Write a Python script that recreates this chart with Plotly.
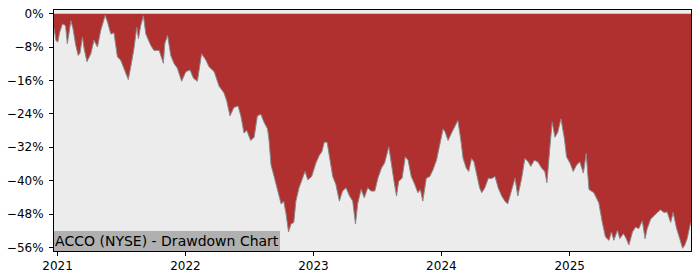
import plotly.graph_objects as go

# ---- data ----
dates = [
    "2020-12-22", "2020-12-28", "2021-01-02", "2021-01-07", "2021-01-15", "2021-01-20", "2021-01-24",
    "2021-01-29", "2021-02-04", "2021-02-08", "2021-02-14", "2021-02-22", "2021-03-01", "2021-03-06",
    "2021-03-13", "2021-03-18", "2021-03-26", "2021-04-06", "2021-04-15", "2021-04-25", "2021-05-04",
    "2021-05-12", "2021-05-17", "2021-05-24", "2021-06-02", "2021-06-11", "2021-06-21", "2021-06-30",
    "2021-07-10", "2021-07-22", "2021-07-29", "2021-08-07", "2021-08-15", "2021-08-20", "2021-08-26",
    "2021-09-03", "2021-09-10", "2021-09-24", "2021-10-03", "2021-10-18", "2021-10-30", "2021-11-03",
    "2021-11-11", "2021-11-20", "2021-11-29", "2021-12-09", "2021-12-21", "2022-01-02", "2022-01-14",
    "2022-01-24", "2022-02-04", "2022-02-16", "2022-02-28", "2022-03-09", "2022-03-24", "2022-04-07",
    "2022-04-21", "2022-04-29", "2022-05-08", "2022-05-19", "2022-05-31", "2022-06-08", "2022-06-17",
    "2022-06-25", "2022-07-06", "2022-07-16", "2022-07-25", "2022-08-04", "2022-08-13", "2022-08-23",
    "2022-08-27", "2022-09-02", "2022-09-12", "2022-09-21", "2022-10-01", "2022-10-08", "2022-10-15",
    "2022-10-22", "2022-10-29", "2022-11-06", "2022-11-12", "2022-11-21", "2022-12-01", "2022-12-08",
    "2022-12-16", "2022-12-27", "2023-01-08", "2023-01-18", "2023-01-25", "2023-02-01", "2023-02-09",
    "2023-02-16", "2023-02-25", "2023-03-06", "2023-03-16", "2023-03-25", "2023-04-04", "2023-04-14",
    "2023-04-23", "2023-05-01", "2023-05-07", "2023-05-17", "2023-05-26", "2023-06-05", "2023-06-14",
    "2023-06-25", "2023-07-04", "2023-07-14", "2023-07-23", "2023-08-04", "2023-08-11", "2023-08-19",
    "2023-08-26", "2023-09-01", "2023-09-11", "2023-09-20", "2023-09-28", "2023-10-07", "2023-10-17",
    "2023-10-26", "2023-11-02", "2023-11-09", "2023-11-19", "2023-11-29", "2023-12-08", "2023-12-18",
    "2023-12-27", "2024-01-06", "2024-01-12", "2024-01-20", "2024-01-31", "2024-02-10", "2024-02-17",
    "2024-02-25", "2024-03-03", "2024-03-12", "2024-03-19", "2024-03-27", "2024-04-03", "2024-04-10",
    "2024-04-19", "2024-04-25", "2024-05-04", "2024-05-14", "2024-05-23", "2024-06-02", "2024-06-11",
    "2024-06-21", "2024-06-30", "2024-07-08", "2024-07-17", "2024-07-29", "2024-08-06", "2024-08-17",
    "2024-08-26", "2024-09-05", "2024-09-12", "2024-09-22", "2024-10-02", "2024-10-13", "2024-10-22",
    "2024-10-28", "2024-11-06", "2024-11-12", "2024-11-20", "2024-11-28", "2024-12-07", "2024-12-17",
    "2024-12-23", "2025-01-02", "2025-01-11", "2025-01-21", "2025-01-30", "2025-02-09", "2025-02-17",
    "2025-02-25", "2025-03-11", "2025-03-25", "2025-04-04", "2025-04-13", "2025-04-23", "2025-04-30",
    "2025-05-07", "2025-05-17", "2025-05-24", "2025-06-03", "2025-06-09", "2025-06-19", "2025-06-29",
    "2025-07-08", "2025-07-17", "2025-07-27", "2025-08-04", "2025-08-10", "2025-08-20", "2025-08-29",
    "2025-09-08", "2025-09-17", "2025-09-27", "2025-10-06", "2025-10-16", "2025-10-23", "2025-11-02",
    "2025-11-11", "2025-11-19", "2025-11-25", "2025-12-02", "2025-12-10", "2025-12-13",
]

drawdown_pct = [
    -3.5, -6.5, -6.8, -4.5, -2.5, -2.6, -3.0,
    -7.2, -4.0, -1.7, -3.5, -7.6, -10.0, -9.5,
    -5.6, -8.4, -11.5, -9.6, -6.4, -8.0, -4.1,
    -2.0, -0.4, -2.1, -4.9, -4.6, -10.4, -11.1,
    -13.1, -15.8, -12.7, -8.4, -3.3, -6.0, -3.0,
    -0.5, -4.9, -7.6, -8.8, -8.8, -11.9, -7.2,
    -5.2, -10.0, -11.9, -13.1, -16.2, -13.9, -13.5,
    -15.5, -16.2, -9.6, -11.1, -12.7, -13.9, -17.4,
    -19.0, -21.0, -24.5, -22.5, -22.1, -24.5, -28.6,
    -28.0, -30.4, -29.6, -24.5, -24.1, -26.0, -27.6,
    -30.0, -36.2, -39.4, -42.5, -45.6, -44.9, -48.0,
    -52.3, -50.4, -50.0, -44.9, -41.7, -39.4, -37.8,
    -39.8, -39.0, -35.8, -33.9, -33.1, -30.8, -30.8,
    -34.7, -39.0, -40.9, -44.9, -42.5, -41.7, -43.7,
    -44.9, -50.4, -45.6, -42.1, -44.1, -41.7, -42.5,
    -42.5, -39.4, -37.0, -35.8, -31.9, -36.2, -40.2,
    -43.7, -40.2, -39.4, -34.3, -35.1, -39.0, -40.9,
    -42.9, -42.1, -44.9, -39.4, -39.0, -37.4, -35.1,
    -31.5, -27.6, -28.4, -30.4, -28.4, -26.8, -25.6,
    -30.0, -34.7, -37.0, -37.8, -34.7, -35.5, -38.2,
    -41.7, -42.9, -41.7, -39.4, -39.5, -39.0, -41.7,
    -43.7, -44.9, -45.6, -42.9, -39.4, -43.7, -39.4,
    -34.7, -35.5, -36.6, -35.1, -35.5, -37.0, -37.8,
    -40.5, -31.5, -26.0, -29.6, -28.4, -25.2, -30.0,
    -34.3, -35.8, -37.8, -36.2, -35.5, -38.2, -33.5,
    -42.1, -42.9, -45.3, -50.0, -53.5, -54.3, -52.3,
    -54.3, -51.9, -53.9, -52.7, -53.5, -55.4, -52.3,
    -51.1, -51.5, -49.6, -53.9, -51.5, -49.2, -48.4,
    -47.6, -47.0, -47.6, -47.5, -50.0, -47.6, -51.5,
    -53.9, -56.2, -55.5, -53.9, -50.8, -50.0,
]

year_ticks = ["2021-01-01", "2022-01-01", "2023-01-01", "2024-01-01", "2025-01-01"]
year_labels = ["2021", "2022", "2023", "2024", "2025"]
pct_ticks = [0, -8, -16, -24, -32, -40, -48, -56]
pct_labels = ["0%", "\u22128%", "\u221216%", "\u221224%", "\u221232%", "\u221240%", "\u221248%", "\u221256%"]
chart_title = "ACCO (NYSE) - Drawdown Chart"

FONT = "DejaVu Sans"

fig = go.Figure()
fig.add_trace(go.Scatter(
    x=dates, y=drawdown_pct,
    mode="lines",
    fill="tozeroy",
    fillcolor="#b03030",
    line=dict(color="#8a8a8a", width=1),
    hoverinfo="skip",
    showlegend=False,
))

fig.update_layout(
    width=700, height=280,
    margin=dict(l=53, r=9, t=7, b=28),
    paper_bgcolor="white",
    plot_bgcolor="#ececec",
    font=dict(family=FONT, size=12, color="black"),
    xaxis=dict(
        type="date",
        range=["2020-12-22", "2025-12-13"],
        tickvals=year_ticks, ticktext=year_labels,
        ticks="outside", ticklen=4, tickwidth=1, tickcolor="black",
        showgrid=False, zeroline=False,
        showline=True, linecolor="black", linewidth=1, mirror=True,
        tickfont=dict(family=FONT, size=12, color="black"),
    ),
    yaxis=dict(
        range=[-56.85, 0.87],
        tickvals=pct_ticks, ticktext=pct_labels,
        ticks="outside", ticklen=4, tickwidth=1, tickcolor="black",
        showgrid=False, zeroline=False,
        showline=True, linecolor="black", linewidth=1, mirror=True,
        tickfont=dict(family=FONT, size=12, color="black"),
        ticklabelstandoff=3,
    ),
    annotations=[dict(
        text=chart_title,
        xref="paper", yref="paper", x=0, y=0,
        xanchor="left", yanchor="bottom",
        showarrow=False,
        font=dict(family=FONT, size=14, color="black"),
        bgcolor="#b0b0b0",
        width=224, height=18, borderpad=1, borderwidth=0,
        align="center",
    )],
)

fig.write_html("out.html")
